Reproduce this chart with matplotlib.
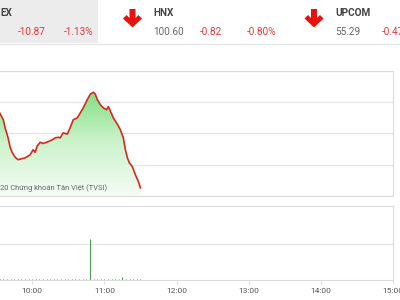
import matplotlib
matplotlib.use('Agg')
import matplotlib.pyplot as plt
import matplotlib.patches as patches
from matplotlib.colors import LinearSegmentedColormap
import numpy as np

plt.rcParams['font.family'] = ['Roboto', 'DejaVu Sans']

# price line, minutes after 9:00 and index value
price_min = [15, 25, 33, 36, 37.5, 40, 41.7, 43.3, 45.8, 48.3, 50, 54.2, 58.3, 60.8, 62.5, 64.2,
             66.7, 69.2, 73.3, 76.7, 79.2, 81.7, 83.3, 85.8, 89.2, 91.7, 94.2, 97.5, 100, 102.5,
             105.8, 108.3, 110.8, 112.5, 114.2, 116.7, 119.2, 121.7, 123.3, 125, 127.5, 130.8,
             133.3, 135.8, 137.5, 139.2, 140.8, 143.3, 145.8, 148.3, 150]
price_val = [962.0, 962.8, 963.3, 962.2, 960.9, 959.3, 957.8, 957.0, 956.2, 955.8, 955.9, 956.1,
             956.6, 957.4, 957.0, 958.0, 958.6, 958.4, 958.7, 959.0, 959.3, 959.4, 959.3, 960.1,
             959.9, 961.0, 962.2, 962.5, 963.3, 964.1, 965.4, 966.3, 966.6, 966.3, 965.4,
             964.6, 964.1, 963.8, 964.3, 963.6, 962.5, 961.5, 960.6, 959.3, 957.4, 956.1, 955.3,
             954.7, 953.4, 952.3, 951.3]

# volume (mn), minutes after 9:00
vol_min = list(range(33, 151, 3))
vol_val = [0.03, 0.03, 0.02, 0.03, 0.03, 0.02, 0.04, 0.03, 0.02, 0.03,
           0.02, 0.03, 0.02, 0.02, 0.03, 0.02, 0.04, 0.03, 0.02, 0.03,
           0.03, 0.02, 0.03, 0.02, 0.03, 1.14, 0.03, 0.02, 0.04, 0.03,
           0.02, 0.03, 0.02, 0.03, 0.09, 0.04, 0.03, 0.03, 0.02, 0.03]

xtick_min = [60, 120, 180, 240, 300, 360]
xtick_lab = ['10:00', '11:00', '12:00', '13:00', '14:00', '15:00']

headers = [('EX', None, '-10.87', '-1.13%'),
           ('HNX', '100.60', '-0.82', '-0.80%'),
           ('UPCOM', '55.29', '-0.47', '-0.47%')]

W, H = 400, 300
fig = plt.figure(figsize=(4, 3), dpi=100)

def fx(px):
    return px / W

def fy(py):
    return 1 - py / H

red = '#e0393a'
grid_c = '#e6e6e6'
frame_c = '#dcdcdc'

# header strip
fig.patches.append(patches.Rectangle((0, fy(43)), fx(98), 43 / H, transform=fig.transFigure,
                                     facecolor='#ececec', edgecolor='none', zorder=0))
fig.add_artist(plt.Line2D([0, 1], [fy(44), fy(44)], transform=fig.transFigure, color='#e6e6e6', lw=1))

name_x = [0, 153, 335]
val_x = [None, 153, 335]
chg_x = [18, 200, 382]
pct_x = [64, 247, 429]
for i, (name, val, chg, pct) in enumerate(headers):
    fig.text(fx(name_x[i]), fy(13), name, fontsize=7.2, fontweight='bold', color='#444444', va='center')
    if val is not None:
        fig.text(fx(val_x[i]), fy(32), val, fontsize=7.2, color='#666666', va='center')
    fig.text(fx(chg_x[i]), fy(32), chg, fontsize=7.2, color=red, va='center')
    fig.text(fx(pct_x[i]), fy(32), pct, fontsize=7.2, color=red, va='center')

# down arrows
for cx in [132.5, 314]:
    pts = [(cx - 3, 9), (cx + 3, 9), (cx + 3, 18), (cx + 6, 15), (cx + 9.5, 18.5),
           (cx, 27.5), (cx - 9.5, 18.5), (cx - 6, 15), (cx - 3, 18)]
    fig.patches.append(patches.Polygon([(fx(a), fy(b)) for a, b in pts], closed=True,
                                       transform=fig.transFigure, facecolor='#e8120c', edgecolor='none'))

# main price chart (left edge lies off the picture, 9:00 at x=-40px)
ax = fig.add_axes([fx(-40), fy(196), fx(393) - fx(-40), (196 - 71) / H])
ax.set_xlim(0, 360)
ax.set_ylim(950, 970)
ax.set_yticks([950, 955, 960, 965, 970])
ax.grid(axis='y', color=grid_c, lw=1)
ax.set_axisbelow(True)
ax.tick_params(left=False, bottom=False, labelleft=False, labelbottom=False)
for s in ax.spines.values():
    s.set_color(frame_c)

poly = ax.fill_between(price_min, price_val, 950, color='none', lw=0)
cmap = LinearSegmentedColormap.from_list('g', ['#f4fcf4', '#cdf3cd', '#7fde7f'])
grad = np.linspace(0, 1, 256).reshape(-1, 1)
img = ax.imshow(grad, cmap=cmap, aspect='auto', origin='lower', extent=[0, 360, 950, 967], zorder=1)
img.set_clip_path(poly.get_paths()[0], transform=ax.transData)
ax.plot(price_min, price_val, color='#d42a1e', lw=1.2, zorder=3)

fig.text(fx(0), fy(188), '20 Chứng khoán Tân Việt (TVSI)', fontsize=5.4, color='#666666', va='center')

# volume chart
ax2 = fig.add_axes([fx(-40), fy(280), fx(393) - fx(-40), (280 - 206) / H])
ax2.set_xlim(0, 360)
ax2.set_ylim(0, 2.06)
ax2.set_yticks([1.0])
ax2.grid(axis='y', color=grid_c, lw=1)
ax2.set_axisbelow(True)
ax2.vlines(vol_min, 0, vol_val, color='#4f9a4f', lw=0.8)
ax2.set_xticks(xtick_min)
ax2.set_xticklabels(xtick_lab, fontsize=6, color='#555555')
ax2.tick_params(left=False, labelleft=False, length=3, color=frame_c, pad=3)
for s in ax2.spines.values():
    s.set_color(frame_c)

fig.savefig('out.png', dpi=100)
